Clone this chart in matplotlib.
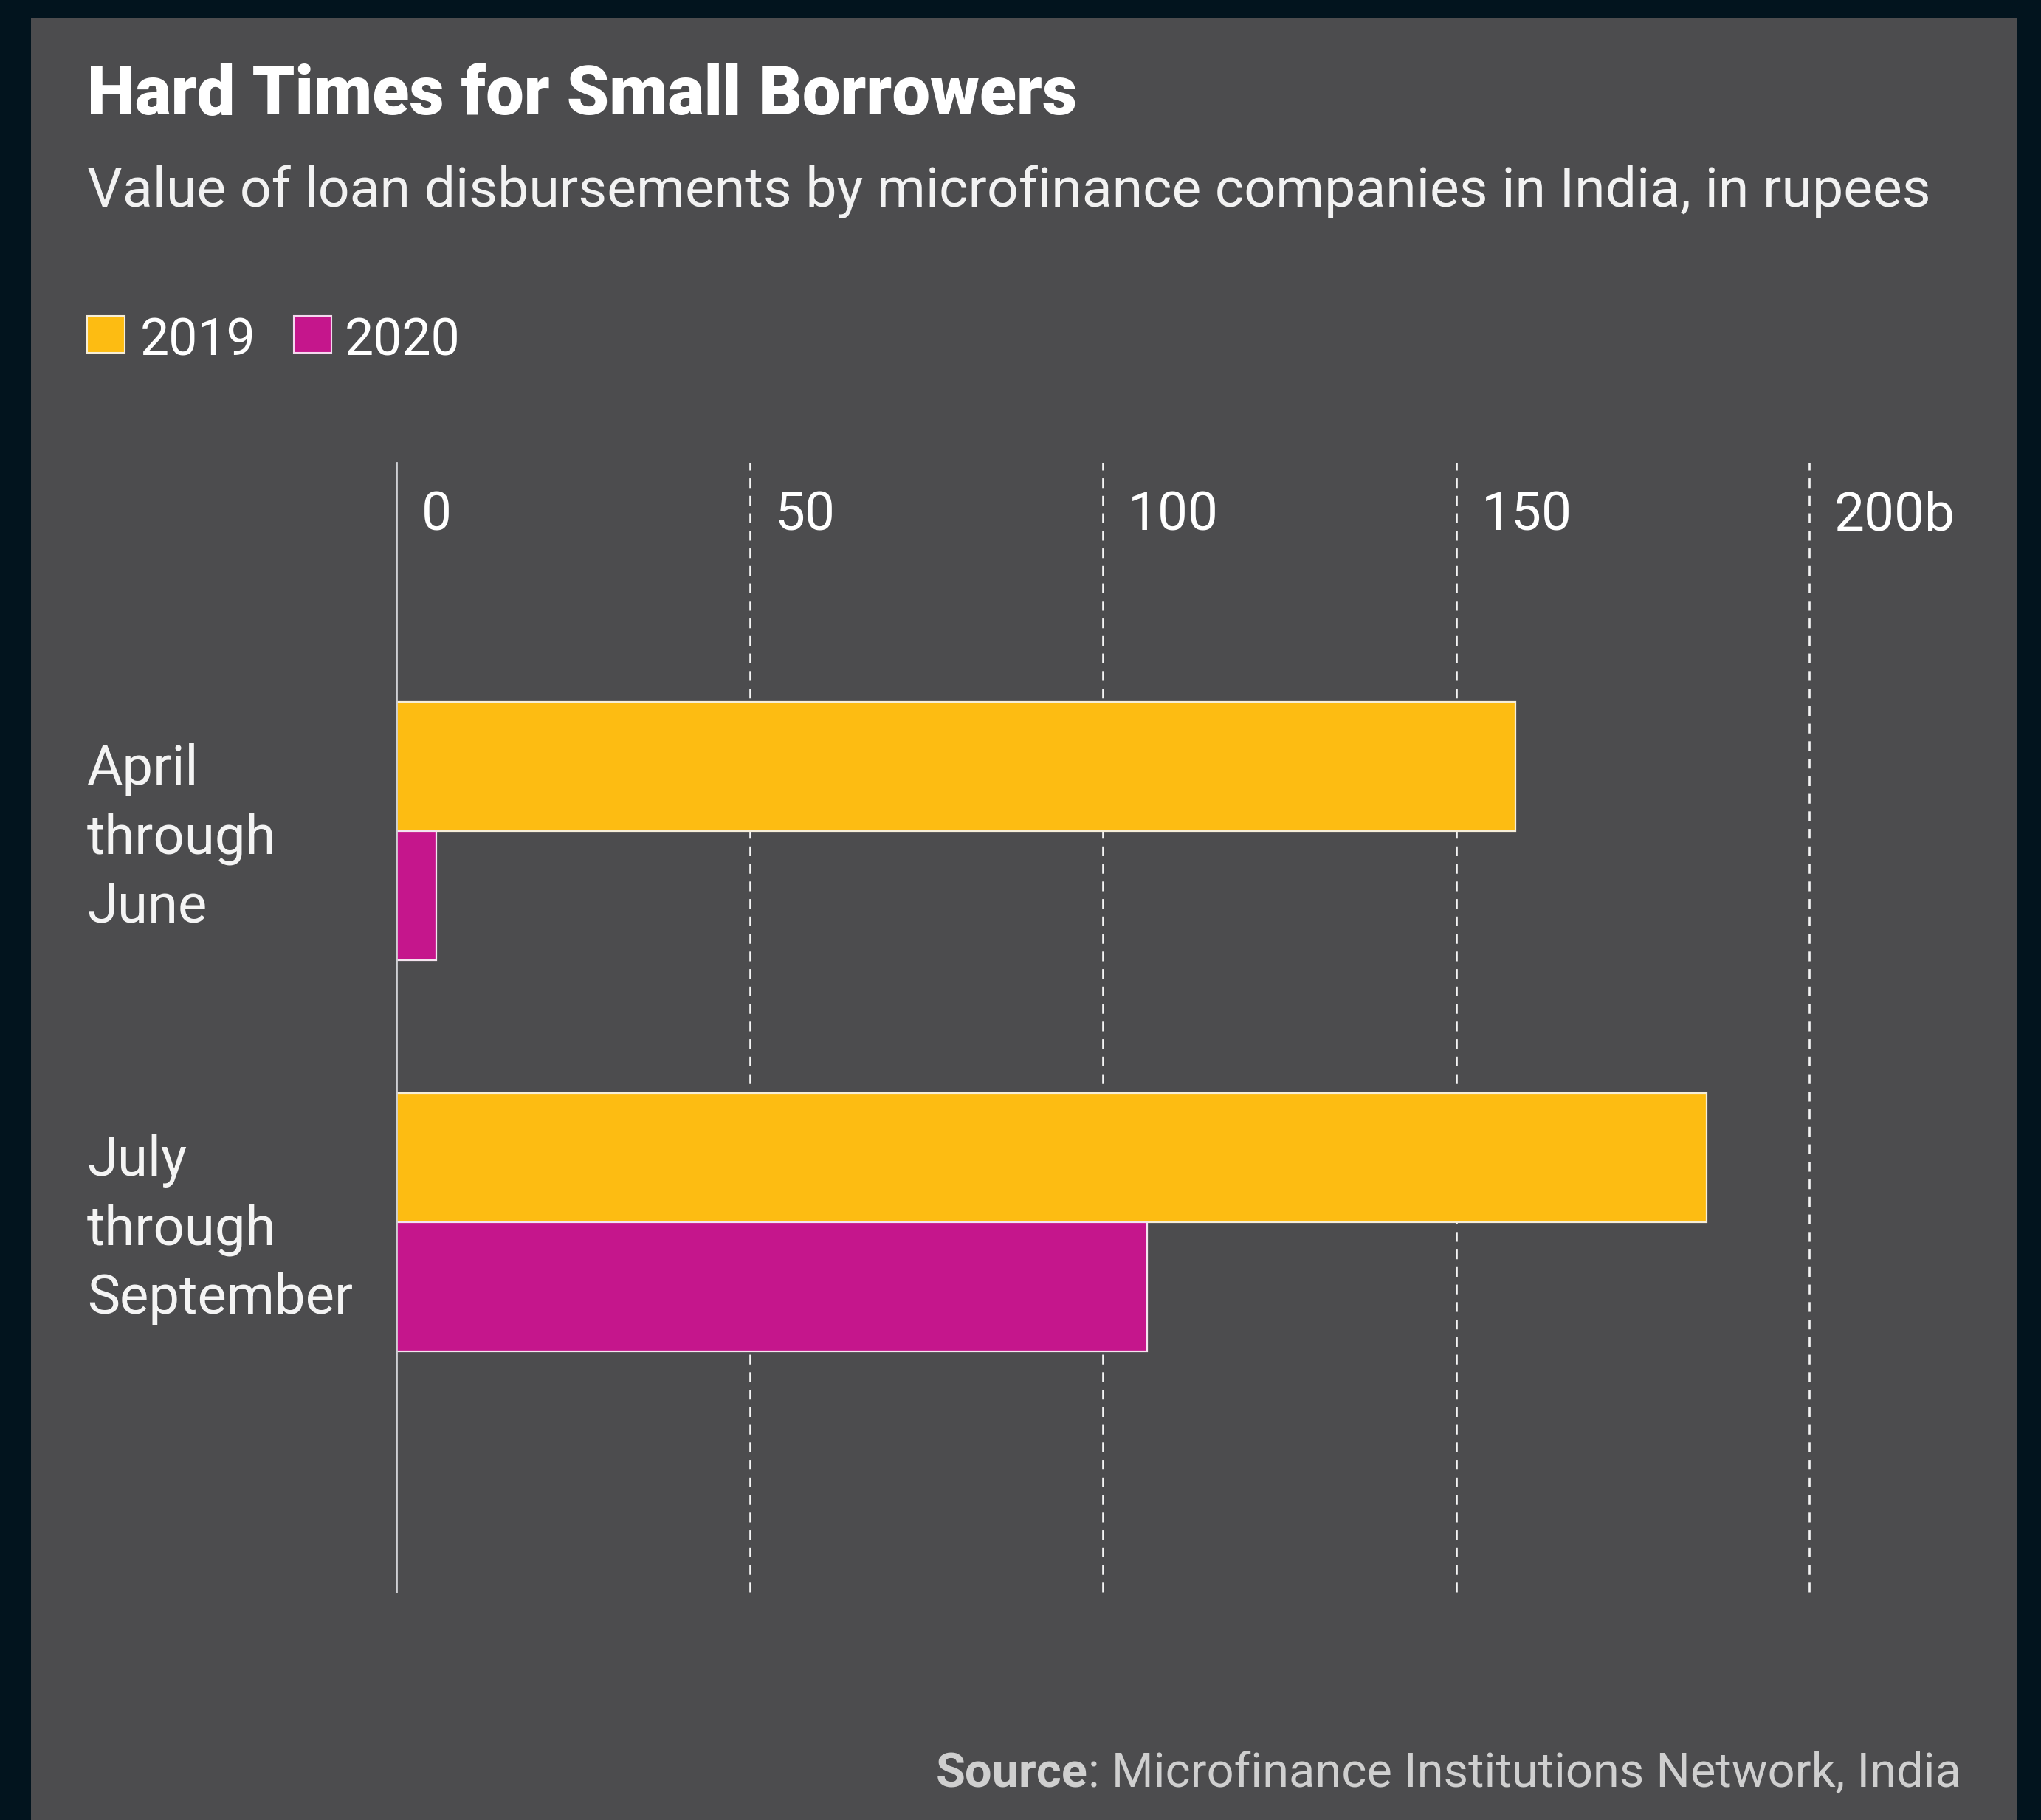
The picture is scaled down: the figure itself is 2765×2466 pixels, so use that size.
import matplotlib
matplotlib.use("Agg")
import matplotlib.pyplot as plt
from matplotlib.patches import Rectangle
import matplotlib.transforms as mtransforms

# ---- data ----
categories = ["April\nthrough\nJune", "July\nthrough\nSeptember"]
series_names = ["2019", "2020"]
values_2019 = [158.4, 185.5]
values_2020 = [5.6, 106.3]
tick_values = [0, 50, 100, 150, 200]
tick_labels = ["0", "50", "100", "150", "200b"]

title = "Hard Times for Small Borrowers"
subtitle = "Value of loan disbursements by microfinance companies in India, in rupees"
source_bold = "Source"
source_rest = ": Microfinance Institutions Network, India"

# ---- style ----
W, H = 2765, 2466
DPI = 100
OUTER = "#02141e"
PANEL = "#4c4c4e"
YELLOW = "#fdbc12"
MAGENTA = "#c5168c"
FONT = ["Roboto", "DejaVu Sans"]
plt.rcParams["font.family"] = FONT

fig = plt.figure(figsize=(W / DPI, H / DPI), dpi=DPI, facecolor=OUTER)
renderer = fig.canvas.get_renderer()

def fx(px):
    return px / W

def fy(py):
    return 1 - py / H

def fit(t, target):
    for _ in range(3):
        bb = t.get_window_extent(renderer)
        t.set_fontsize(t.get_fontsize() * target / bb.width)

# panel
fig.patches.append(Rectangle((fx(42), 0), fx(2732) - fx(42), fy(24), transform=fig.transFigure,
                             facecolor=PANEL, edgecolor="none", zorder=-10))

# axes
ax_left, ax_right, ax_top, ax_bot = 537, 2451, 627, 2157
ax = fig.add_axes([fx(ax_left), fy(ax_bot), fx(ax_right) - fx(ax_left), fy(ax_top) - fy(ax_bot)])
ax.set_zorder(5)
ax.set_facecolor("none")
for s in ax.spines.values():
    s.set_visible(False)

bar_h = 0.33
ypos = list(range(len(categories)))
ax.barh([y - bar_h / 2 for y in ypos], values_2019, height=bar_h, color=YELLOW,
        edgecolor="#f6eed8", linewidth=1.6, zorder=3)
ax.barh([y + bar_h / 2 for y in ypos], values_2020, height=bar_h, color=MAGENTA,
        edgecolor="#f4e4f0", linewidth=1.6, zorder=3)

ax.set_xlim(0, 200)
ax.set_ylim(1.945, -0.9415)
ax.set_xticks(tick_values)
ax.set_yticks([])
ax.tick_params(axis="x", length=0, labelbottom=False)
ax.grid(axis="x", color="#f4f4f4", linestyle=(0, (5, 4)), linewidth=1.9, zorder=1)
for v, gl in zip(tick_values, ax.get_xgridlines()):
    gl.set_clip_on(False)
    if v == 0:
        gl.set_visible(False)
ax.axvline(0, color="#cfd0d4", linewidth=2.0, zorder=4, clip_on=False)

# tick labels inside plot, top
tick_tr = mtransforms.blended_transform_factory(ax.transData, fig.transFigure)
off = mtransforms.ScaledTranslation(34 / DPI, 0, fig.dpi_scale_trans)
tick_texts = []
for v, lab in zip(tick_values, tick_labels):
    t = ax.text(v, fy(718), lab, transform=tick_tr + off, ha="left", va="baseline",
                color="white", fontsize=44, clip_on=False)
    tick_texts.append(t)
fit(tick_texts[-1], 164)
for t in tick_texts:
    t.set_fontsize(tick_texts[-1].get_fontsize())

# category labels
cat_tr = mtransforms.blended_transform_factory(fig.transFigure, ax.transData)
cat_off = mtransforms.ScaledTranslation(0, -10 / DPI, fig.dpi_scale_trans)
cat_texts = []
for y, c in zip(ypos, categories):
    t = ax.text(fx(118), y, c, transform=cat_tr + cat_off, ha="left", va="center",
                color="#f4f4f4", fontsize=48, linespacing=1.3, clip_on=False)
    cat_texts.append(t)
probe = fig.text(0, 0, "September", fontsize=48)
fit(probe, 360)
cfs = probe.get_fontsize()
probe.remove()
for t in cat_texts:
    t.set_fontsize(cfs)
    t.set_linespacing(1.32 * 94 / (cfs * DPI / 72) / 1.2)

# title and subtitle
tt = fig.text(fx(118), fy(155), title, ha="left", va="baseline", color="white",
              fontsize=56, fontweight="heavy")
fit(tt, 1342)
st = fig.text(fx(118), fy(280), subtitle, ha="left", va="baseline", color="#f2f2f2",
              fontsize=50)
fit(st, 2497)

# legend
lfs = None
leg_items = [(118, 169, 190, YELLOW, "#f6eed8", series_names[0]),
             (398, 449, 467, MAGENTA, "#f4d8ee", series_names[1])]
for x0, x1, xt, fc, ec, lab in leg_items:
    fig.patches.append(Rectangle((fx(x0), fy(478)), fx(x1) - fx(x0), fy(428) - fy(478),
                                 transform=fig.transFigure, facecolor=fc, edgecolor=ec,
                                 linewidth=1.5, zorder=2))
    t = fig.text(fx(xt), fy(481), lab, ha="left", va="baseline", color="white", fontsize=48)
    if lfs is None:
        fit(t, 157)
        lfs = t.get_fontsize()
    else:
        t.set_fontsize(lfs)

# source
sr = fig.text(fx(2657), fy(2421), source_rest, ha="right", va="baseline", color="#cfcfcf",
              fontsize=40)
sb = fig.text(fx(1270), fy(2421), source_bold, ha="left", va="baseline", color="#cfcfcf",
              fontsize=40, fontweight="bold")
for _ in range(3):
    w = sr.get_window_extent(renderer).width + sb.get_window_extent(renderer).width
    k = 1387 / w
    sr.set_fontsize(sr.get_fontsize() * k)
    sb.set_fontsize(sb.get_fontsize() * k)
bbr = sr.get_window_extent(renderer)
sb.set_ha("right")
sb.set_position((bbr.x0 / W, fy(2421)))

fig.savefig("out.png", dpi=DPI, facecolor=OUTER)
